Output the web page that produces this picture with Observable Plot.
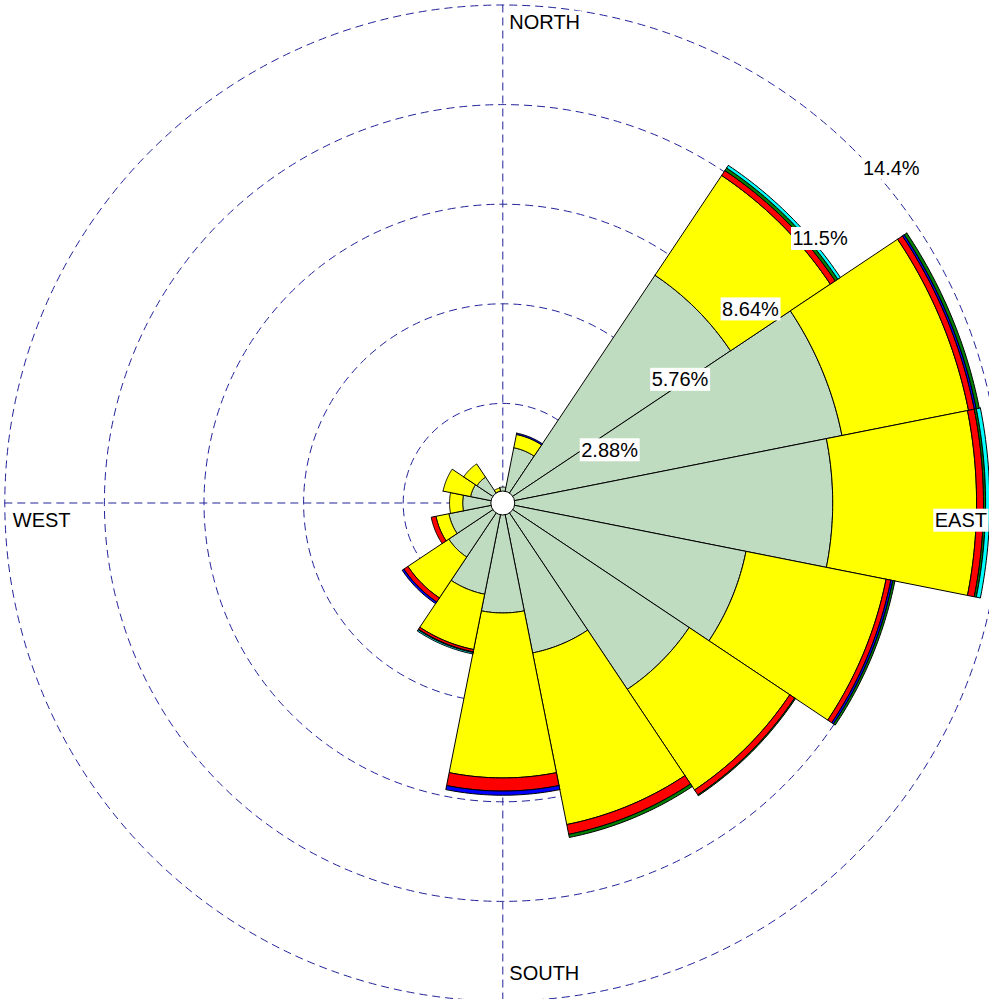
<!DOCTYPE html>
<html><head><meta charset="utf-8">
<script src="https://cdn.jsdelivr.net/npm/d3@7"></script>
<script src="https://cdn.jsdelivr.net/npm/@observablehq/plot@0.6"></script>
<style>
html,body{margin:0;padding:0;background:#fff;overflow:hidden;}
#chart{width:989px;height:999px;overflow:hidden;position:relative;}
</style></head><body><div id="chart"></div>
<script>
// ---- data (percent frequency per direction and speed class) ----
const directions = ["N","NNE","NE","ENE","E","ESE","SE","SSE","S","SSW","SW","WSW","W","WNW","NW","NNW"];
const class1 = [0.46,1.63,7.92,10.00,9.54,7.17,6.48,4.42,3.18,2.69,1.88,1.59,1.16,0.95,0.90,0.35]; // grey-green
const class2 = [0.00,0.39,3.47,3.73,4.16,4.13,3.50,5.06,4.77,1.63,1.42,0.38,0.38,0.81,0.46,0.09]; // yellow
const class3 = [0.00,0.00,0.17,0.17,0.20,0.14,0.17,0.29,0.38,0.07,0.14,0.14,0.00,0.00,0.00,0.00]; // red
const class4 = [0.00,0.04,0.00,0.06,0.00,0.06,0.00,0.00,0.12,0.00,0.06,0.00,0.00,0.00,0.00,0.00]; // blue
const class5 = [0.00,0.00,0.09,0.09,0.06,0.06,0.03,0.09,0.00,0.02,0.00,0.00,0.00,0.00,0.00,0.00]; // green
const class6 = [0.00,0.00,0.09,0.00,0.12,0.00,0.00,0.00,0.00,0.04,0.00,0.00,0.00,0.00,0.00,0.00]; // cyan
const classColors = ["#c0dcc0","#ffff00","#ff0000","#0000ff","#008000","#00ffff"];
const ringValues = [2.88, 5.76, 8.64, 11.52, 14.4];
const ringLabels = ["2.88%","5.76%","8.64%","11.5%","14.4%"];
const compassLabels = ["NORTH","EAST","SOUTH","WEST"];

// ---- geometry ----
const W = 989, H = 999;
const cx = 502.3, cy = 502.5;
const maxR = 14.4;
const k = 99.6 / 2.88; // px per percent
const classes = [class1, class2, class3, class4, class5, class6];
const rad = Math.PI / 180;
const sectorWidth = 360 / directions.length;

function sectorPolygon(r0, r1, center, id, cls) {
  const a0 = (center - sectorWidth / 2) * rad, a1 = (center + sectorWidth / 2) * rad;
  const n = 30, pts = [];
  for (let j = 0; j <= n; j++) { const t = a0 + (a1 - a0) * j / n; pts.push({id, cls, x: r1 * Math.sin(t), y: r1 * Math.cos(t)}); }
  for (let j = n; j >= 0; j--) { const t = a0 + (a1 - a0) * j / n; pts.push({id, cls, x: r0 * Math.sin(t), y: r0 * Math.cos(t)}); }
  pts.push({...pts[0]});
  return pts;
}

const rows = [];
directions.forEach((d, i) => {
  let base = 0;
  classes.forEach((arr, j) => {
    const v = arr[i];
    if (v > 0) rows.push(...sectorPolygon(base, base + v, i * sectorWidth, d + "-" + j, j));
    base += v;
  });
});

const dash = {stroke: "#22229a", strokeWidth: 1, strokeDasharray: "8,5"};
const font = {fontSize: 20, fontFamily: "Liberation Sans, Arial, sans-serif", fill: "black"};

const plot = Plot.plot({
  width: W, height: H, margin: 0,
  style: {background: "white", overflow: "hidden"},
  x: {domain: [-cx / k, (W - cx) / k], axis: null},
  y: {domain: [-(H - cy) / k, cy / k], axis: null},
  r: {type: "linear", domain: [0, maxR], range: [0, maxR * k]},
  marks: [
    Plot.ruleX([0], {y1: -maxR, y2: maxR, ...dash}),
    Plot.ruleY([0], {x1: -maxR, x2: maxR, ...dash}),
    Plot.dot(ringValues, {x: () => 0, y: () => 0, r: d => d, fill: "none", ...dash}),
    ...classColors.map((c, j) => Plot.line(rows.filter(r => r.cls === j), {
      x: "x", y: "y", z: "id", fill: c, stroke: "black", strokeWidth: 1, curve: "linear", strokeLinejoin: "miter"
    })),
    Plot.dot([0], {x: () => 0, y: () => 0, r: 12, fill: "white", stroke: "black", strokeWidth: 1}),
    Plot.text(ringValues, {x: d => d * Math.sin(45 * rad), y: d => d * Math.cos(45 * rad), text: (d, i) => ringLabels[i],
      textAnchor: "start", lineAnchor: "top", dx: 8, dy: 10, ...font}),
    Plot.text([compassLabels[0]], {x: () => 0, y: () => maxR, text: d => d, textAnchor: "start", lineAnchor: "top", dx: 6.5, dy: 10, ...font}),
    Plot.text([compassLabels[1]], {x: () => (W - cx) / k, y: () => 0, text: d => d, textAnchor: "end", lineAnchor: "top", dx: -2.5, dy: 10, ...font}),
    Plot.text([compassLabels[2]], {x: () => 0, y: () => -maxR, text: d => d, textAnchor: "start", lineAnchor: "top", dx: 6.5, dy: -35, ...font}),
    Plot.text([compassLabels[3]], {x: () => -maxR, y: () => 0, text: d => d, textAnchor: "start", lineAnchor: "top", dx: 8, dy: 10, ...font})
  ]
});
document.getElementById("chart").appendChild(plot);

// white boxes behind labels
plot.querySelectorAll('g[aria-label="text"] text').forEach(t => {
  const b = t.getBBox();
  const rect = document.createElementNS("http://www.w3.org/2000/svg", "rect");
  rect.setAttribute("x", b.x - 1.5); rect.setAttribute("y", b.y - 0.5);
  rect.setAttribute("width", b.width + 3); rect.setAttribute("height", b.height + 1);
  rect.setAttribute("fill", "white");
  rect.setAttribute("stroke", "none");
  if (t.getAttribute("transform")) rect.setAttribute("transform", t.getAttribute("transform"));
  t.parentNode.insertBefore(rect, t);
});
</script>
</body></html>
